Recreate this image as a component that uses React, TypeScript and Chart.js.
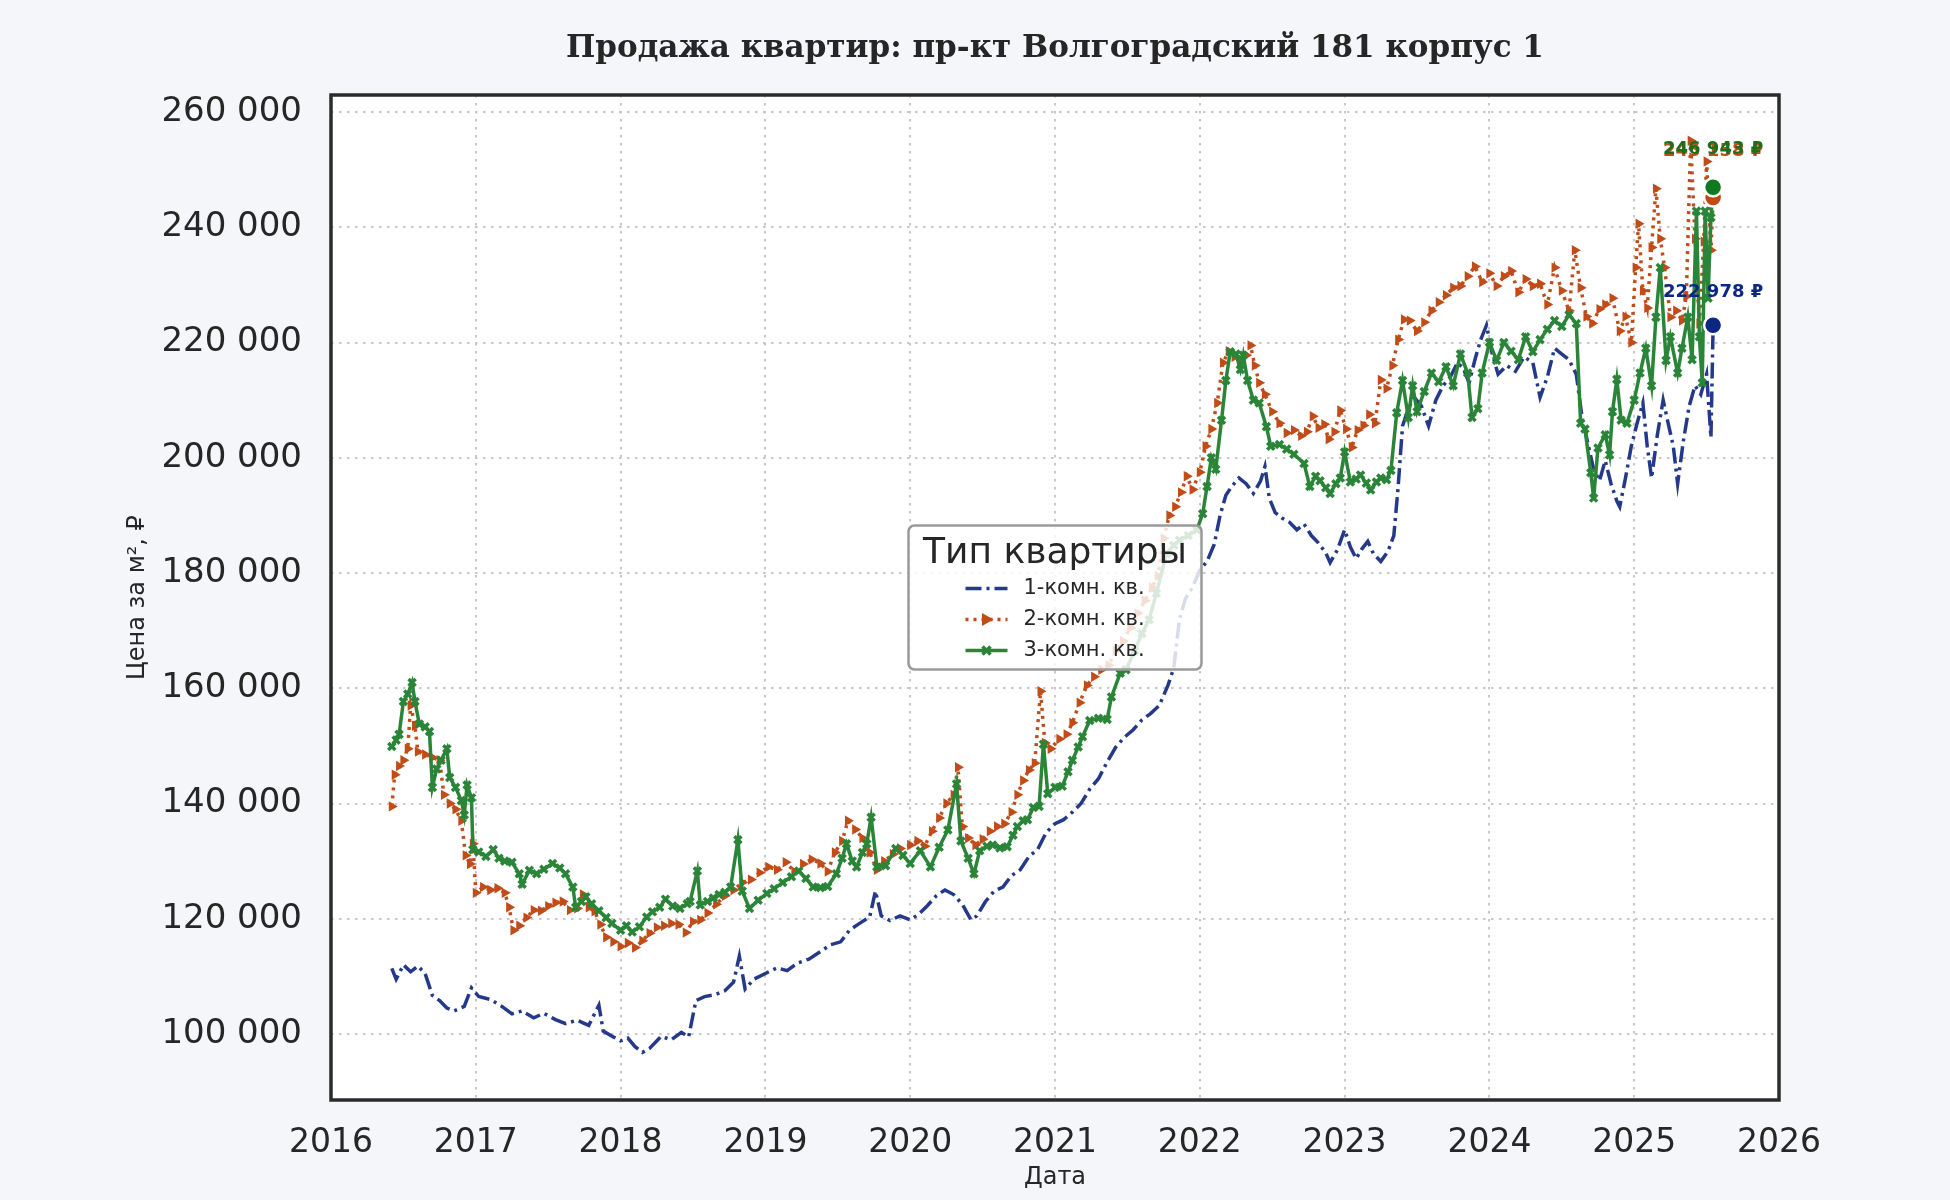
import React, { useEffect, useRef } from 'react';
import { Chart, registerables } from 'chart.js';

Chart.register(...registerables);

// years on the x axis, prices on the y axis
const yearTicks = [2016, 2017, 2018, 2019, 2020, 2021, 2022, 2023, 2024, 2025, 2026];
const priceTicks = [100000, 120000, 140000, 160000, 180000, 200000, 220000, 240000, 260000];
const seriesNames = ['1-комн. кв.', '2-комн. кв.', '3-комн. кв.'];

// [decimal year, price per m²]
const oneRoom: [number, number][] = [
  [2016.42, 111400], [2016.45, 109500], [2016.5, 112000], [2016.55, 110800], [2016.6, 111800], [2016.65, 110500],
  [2016.7, 106700], [2016.75, 105800], [2016.8, 104500], [2016.85, 104000], [2016.92, 104800], [2016.97, 108000],
  [2017.02, 106500], [2017.1, 106000], [2017.18, 104800], [2017.25, 103500], [2017.32, 104000], [2017.4, 102800],
  [2017.47, 103600], [2017.55, 102500], [2017.62, 101800], [2017.7, 102400], [2017.78, 101500], [2017.85, 105000],
  [2017.88, 100500], [2017.95, 99500], [2018.0, 98800], [2018.05, 99300], [2018.1, 97800], [2018.15, 96800],
  [2018.2, 97500], [2018.28, 99600], [2018.35, 99000], [2018.42, 100300], [2018.47, 99500], [2018.52, 105800],
  [2018.58, 106500], [2018.65, 106800], [2018.72, 107500], [2018.78, 109000], [2018.82, 113500], [2018.86, 107800],
  [2018.92, 109500], [2019.0, 110500], [2019.08, 111500], [2019.15, 111000], [2019.22, 112300], [2019.3, 113000],
  [2019.38, 114300], [2019.45, 115500], [2019.52, 116000], [2019.58, 118000], [2019.65, 119200], [2019.72, 120300],
  [2019.76, 124800], [2019.8, 120500], [2019.86, 119700], [2019.93, 120500], [2020.0, 119800], [2020.06, 120800],
  [2020.12, 122300], [2020.18, 124000], [2020.24, 125000], [2020.3, 124200], [2020.36, 122500], [2020.42, 119800],
  [2020.46, 120500], [2020.52, 123000], [2020.58, 124800], [2020.64, 125500], [2020.7, 127500], [2020.76, 128500],
  [2020.82, 130800], [2020.88, 132000], [2020.94, 135000], [2021.0, 136500], [2021.06, 137200], [2021.12, 138500],
  [2021.18, 140000], [2021.24, 142500], [2021.3, 144300], [2021.36, 147200], [2021.42, 149800], [2021.48, 151500],
  [2021.54, 152800], [2021.6, 154500], [2021.66, 155600], [2021.72, 157000], [2021.78, 160500], [2021.82, 163500],
  [2021.86, 172000], [2021.9, 175500], [2021.95, 177500], [2022.0, 180500], [2022.05, 182000], [2022.1, 185000],
  [2022.14, 190000], [2022.18, 193500], [2022.22, 195000], [2022.27, 196500], [2022.32, 195500], [2022.37, 193800],
  [2022.42, 196000], [2022.45, 198500], [2022.48, 193000], [2022.52, 190500], [2022.57, 189500], [2022.62, 188800],
  [2022.67, 187500], [2022.72, 188500], [2022.77, 186500], [2022.82, 185200], [2022.87, 183500], [2022.9, 181800],
  [2022.95, 184000], [2023.0, 187500], [2023.04, 184500], [2023.08, 182500], [2023.12, 184200], [2023.16, 185500],
  [2023.2, 183300], [2023.25, 182000], [2023.3, 183800], [2023.34, 186500], [2023.37, 195000], [2023.4, 205500],
  [2023.44, 208500], [2023.48, 210500], [2023.53, 209000], [2023.58, 205500], [2023.63, 210000], [2023.68, 212500],
  [2023.73, 214000], [2023.78, 216500], [2023.82, 215500], [2023.86, 213000], [2023.9, 217000], [2023.94, 220500],
  [2023.98, 223000], [2024.02, 218000], [2024.06, 214500], [2024.12, 216000], [2024.18, 215000], [2024.24, 217500],
  [2024.3, 216500], [2024.35, 210500], [2024.4, 214000], [2024.45, 219000], [2024.5, 218000], [2024.55, 217000],
  [2024.6, 214500], [2024.64, 207000], [2024.68, 202500], [2024.72, 198000], [2024.76, 196000], [2024.8, 199500],
  [2024.84, 195500], [2024.88, 192500], [2024.9, 191500], [2024.94, 196500], [2024.98, 202000], [2025.02, 206000],
  [2025.06, 209500], [2025.09, 202000], [2025.12, 196500], [2025.16, 204000], [2025.2, 210000], [2025.23, 206500],
  [2025.27, 202000], [2025.3, 195500], [2025.34, 203000], [2025.38, 209000], [2025.42, 212500], [2025.46, 211000],
  [2025.5, 214500], [2025.53, 203500], [2025.545, 222978],
];

const twoRoom: [number, number][] = [
  [2016.42, 139500], [2016.44, 145000], [2016.47, 146500], [2016.5, 147500], [2016.53, 149500], [2016.55, 157000],
  [2016.58, 153500], [2016.6, 149000], [2016.65, 148500], [2016.7, 148000], [2016.75, 147500], [2016.78, 141500],
  [2016.82, 140000], [2016.86, 139000], [2016.9, 137000], [2016.93, 131000], [2016.96, 129500], [2016.98, 133000],
  [2017.0, 124500], [2017.05, 125500], [2017.1, 125000], [2017.15, 125300], [2017.2, 124500], [2017.23, 122000],
  [2017.26, 118000], [2017.3, 118800], [2017.35, 120200], [2017.4, 121500], [2017.45, 121400], [2017.5, 122200],
  [2017.55, 122800], [2017.6, 123000], [2017.65, 121500], [2017.7, 121800], [2017.74, 124200], [2017.78, 122000],
  [2017.82, 121300], [2017.86, 119000], [2017.9, 116800], [2017.95, 116000], [2018.0, 115200], [2018.05, 115800],
  [2018.1, 115000], [2018.15, 116200], [2018.2, 117500], [2018.25, 118500], [2018.3, 118800], [2018.35, 119200],
  [2018.4, 119000], [2018.45, 117600], [2018.5, 119500], [2018.55, 119800], [2018.6, 121000], [2018.66, 122500],
  [2018.72, 124000], [2018.78, 125000], [2018.84, 126300], [2018.9, 126800], [2018.96, 128000], [2019.02, 129000],
  [2019.08, 128500], [2019.14, 129800], [2019.2, 128200], [2019.26, 129500], [2019.32, 130300], [2019.38, 129600],
  [2019.43, 128200], [2019.48, 131500], [2019.53, 133500], [2019.57, 137000], [2019.62, 135500], [2019.67, 134000],
  [2019.72, 131500], [2019.77, 128500], [2019.82, 130000], [2019.88, 131200], [2019.93, 132200], [2020.0, 132800],
  [2020.05, 133500], [2020.1, 132600], [2020.15, 135200], [2020.2, 137500], [2020.25, 140000], [2020.3, 141500],
  [2020.33, 146300], [2020.36, 136000], [2020.4, 134000], [2020.45, 132800], [2020.5, 133800], [2020.55, 135200],
  [2020.6, 136000], [2020.65, 136500], [2020.7, 138500], [2020.74, 141500], [2020.78, 144000], [2020.82, 145800],
  [2020.86, 147000], [2020.9, 159500], [2020.93, 150500], [2020.97, 149500], [2021.03, 151200], [2021.08, 152000],
  [2021.12, 154000], [2021.17, 157500], [2021.22, 160500], [2021.27, 162000], [2021.32, 163200], [2021.37, 164000],
  [2021.42, 166500], [2021.47, 168200], [2021.52, 170500], [2021.57, 173000], [2021.62, 175200], [2021.67, 177500],
  [2021.71, 179500], [2021.75, 186000], [2021.79, 190000], [2021.83, 191500], [2021.87, 194000], [2021.91, 196800],
  [2021.95, 194500], [2022.0, 197500], [2022.04, 202000], [2022.08, 205000], [2022.12, 209500], [2022.16, 216500],
  [2022.2, 218500], [2022.24, 217500], [2022.28, 216800], [2022.32, 217800], [2022.35, 219500], [2022.38, 216000],
  [2022.41, 213000], [2022.45, 211000], [2022.5, 208000], [2022.55, 206000], [2022.6, 204300], [2022.65, 204800],
  [2022.7, 203800], [2022.74, 204500], [2022.78, 207200], [2022.82, 205200], [2022.86, 205800], [2022.89, 203200],
  [2022.93, 204500], [2022.97, 208200], [2023.01, 205000], [2023.05, 201800], [2023.09, 204800], [2023.13, 205600],
  [2023.17, 207500], [2023.21, 206000], [2023.25, 213500], [2023.29, 212000], [2023.33, 216000], [2023.37, 220500],
  [2023.41, 224000], [2023.45, 223800], [2023.5, 222000], [2023.55, 223500], [2023.6, 225500], [2023.65, 227000],
  [2023.7, 228200], [2023.75, 229500], [2023.8, 229800], [2023.85, 231500], [2023.9, 233200], [2023.95, 230500],
  [2024.0, 232000], [2024.05, 229800], [2024.1, 231500], [2024.15, 232400], [2024.2, 228700], [2024.25, 231000],
  [2024.3, 229800], [2024.35, 230200], [2024.4, 226600], [2024.45, 233000], [2024.5, 229000], [2024.55, 225500],
  [2024.59, 236000], [2024.63, 229500], [2024.67, 224500], [2024.71, 223300], [2024.76, 225800], [2024.8, 226600],
  [2024.85, 227700], [2024.9, 222000], [2024.94, 224500], [2024.98, 220000], [2025.01, 233000], [2025.03, 240600],
  [2025.06, 229000], [2025.09, 226000], [2025.12, 236500], [2025.15, 246700], [2025.18, 238000], [2025.21, 233000],
  [2025.25, 224400], [2025.29, 225500], [2025.33, 223800], [2025.36, 228000], [2025.39, 255000], [2025.42, 238000],
  [2025.45, 223300], [2025.48, 237500], [2025.5, 251400], [2025.53, 236000], [2025.545, 245158],
];

const threeRoom: [number, number][] = [
  [2016.42, 149900], [2016.45, 151000], [2016.47, 152000], [2016.5, 157700], [2016.53, 159000], [2016.56, 161000],
  [2016.58, 157700], [2016.61, 153800], [2016.65, 153300], [2016.68, 152500], [2016.7, 142800], [2016.73, 146000],
  [2016.76, 147500], [2016.8, 149500], [2016.82, 144500], [2016.86, 142800], [2016.9, 140500], [2016.92, 138000],
  [2016.94, 143200], [2016.97, 141000], [2016.98, 132000], [2017.02, 131600], [2017.07, 130800], [2017.12, 132000],
  [2017.16, 130500], [2017.2, 130000], [2017.25, 129800], [2017.3, 127800], [2017.32, 126000], [2017.37, 128400],
  [2017.42, 127800], [2017.47, 128600], [2017.53, 129600], [2017.58, 128800], [2017.62, 127800], [2017.67, 125500],
  [2017.69, 122000], [2017.73, 123000], [2017.76, 123800], [2017.8, 122600], [2017.85, 121400], [2017.9, 120200],
  [2017.94, 119200], [2018.0, 118000], [2018.04, 118800], [2018.08, 117700], [2018.13, 118600], [2018.18, 120300],
  [2018.22, 121200], [2018.27, 122000], [2018.31, 123400], [2018.36, 122200], [2018.41, 121800], [2018.46, 122600],
  [2018.48, 123000], [2018.53, 128300], [2018.55, 122400], [2018.6, 123000], [2018.64, 123600], [2018.68, 124200],
  [2018.72, 124600], [2018.76, 125500], [2018.81, 133700], [2018.84, 124800], [2018.89, 121800], [2018.95, 123200],
  [2019.01, 124400], [2019.06, 125200], [2019.12, 126300], [2019.18, 127300], [2019.23, 128300], [2019.28, 127000],
  [2019.33, 125500], [2019.38, 125400], [2019.43, 125600], [2019.49, 127800], [2019.53, 130500], [2019.56, 133000],
  [2019.6, 130000], [2019.63, 129000], [2019.67, 131500], [2019.7, 133000], [2019.73, 137600], [2019.77, 129000],
  [2019.83, 129200], [2019.9, 132200], [2019.95, 131000], [2020.0, 129600], [2020.07, 131800], [2020.14, 129000],
  [2020.2, 132400], [2020.26, 135400], [2020.32, 143400], [2020.35, 133500], [2020.4, 130500], [2020.44, 127800],
  [2020.48, 131800], [2020.53, 132600], [2020.57, 132800], [2020.62, 132300], [2020.67, 132500], [2020.71, 134500],
  [2020.74, 136000], [2020.78, 137000], [2020.81, 137200], [2020.85, 139300], [2020.89, 139500], [2020.92, 150300],
  [2020.95, 141700], [2021.0, 142800], [2021.05, 143000], [2021.09, 145500], [2021.12, 147500], [2021.16, 149800],
  [2021.19, 151600], [2021.24, 154400], [2021.3, 154800], [2021.36, 154600], [2021.39, 158500], [2021.45, 162600],
  [2021.49, 163200], [2021.55, 166500], [2021.6, 169500], [2021.65, 171900], [2021.7, 176500], [2021.77, 183400],
  [2021.82, 184800], [2021.86, 185700], [2021.92, 186500], [2021.98, 187500], [2022.02, 190300], [2022.05, 195000],
  [2022.08, 200000], [2022.11, 198000], [2022.15, 206500], [2022.18, 213400], [2022.21, 218400], [2022.25, 218000],
  [2022.28, 215300], [2022.3, 217800], [2022.33, 213400], [2022.37, 210000], [2022.41, 209500], [2022.46, 205400],
  [2022.49, 202000], [2022.55, 202300], [2022.6, 201500], [2022.65, 200600], [2022.72, 199000], [2022.76, 195000],
  [2022.8, 196800], [2022.83, 196000], [2022.87, 194800], [2022.9, 193800], [2022.94, 195500], [2022.97, 196500],
  [2023.0, 201000], [2023.04, 195800], [2023.08, 196300], [2023.11, 197000], [2023.15, 195600], [2023.18, 194400],
  [2023.22, 195800], [2023.25, 196500], [2023.29, 196200], [2023.32, 197800], [2023.36, 207800], [2023.4, 213400],
  [2023.44, 207000], [2023.47, 212500], [2023.5, 208000], [2023.55, 211500], [2023.6, 214700], [2023.65, 213200],
  [2023.7, 215800], [2023.75, 212500], [2023.8, 218000], [2023.85, 214700], [2023.88, 207000], [2023.92, 208500],
  [2023.95, 214700], [2024.0, 220000], [2024.05, 216900], [2024.1, 220000], [2024.15, 218500], [2024.2, 217000],
  [2024.25, 221000], [2024.3, 218400], [2024.35, 220500], [2024.4, 222300], [2024.45, 223800], [2024.5, 222800],
  [2024.55, 224800], [2024.6, 223300], [2024.63, 206000], [2024.66, 205000], [2024.7, 197400], [2024.72, 193000],
  [2024.75, 201700], [2024.8, 204000], [2024.83, 200500], [2024.85, 208000], [2024.88, 213600], [2024.91, 206500],
  [2024.95, 206000], [2025.0, 210000], [2025.04, 214700], [2025.08, 219000], [2025.12, 212500], [2025.15, 224400],
  [2025.18, 233000], [2025.22, 216900], [2025.25, 221000], [2025.3, 214700], [2025.33, 219000], [2025.37, 224400],
  [2025.4, 217000], [2025.43, 242800], [2025.45, 221000], [2025.47, 213000], [2025.49, 242800], [2025.51, 227700],
  [2025.53, 241700], [2025.545, 246943],
];

const lineColors = ['#24398a', '#c04d19', '#2b8538'];
const dotColors = ['#0a2784', '#c24914', '#0f7a20'];
const labelColors = ['#0a2784', '#b8521c', '#1b6e1b'];
const labelLift = [33, 46, 38];
const textColor = '#262626';

const toXY = (rows: [number, number][]) => rows.map(([x, y]) => ({ x, y }));
const fmt = (v: number) => String(Math.round(v)).replace(/\B(?=(\d{3})+(?!\d))/g, ' ');

const allSeries = [oneRoom, twoRoom, threeRoom];

const decorPlugin = {
  id: 'decor',
  beforeDraw(chart: any) {
    const { ctx, chartArea: a } = chart;
    ctx.save();
    ctx.fillStyle = '#ffffff';
    ctx.fillRect(a.left, a.top, a.right - a.left, a.bottom - a.top);
    ctx.restore();
  },
  afterDatasetsDraw(chart: any) {
    // legend box in the middle of the plot
    const { ctx, chartArea: a } = chart;
    const cx = (a.left + a.right) / 2;
    const cy = (a.top + a.bottom) / 2;
    const w = 293;
    const h = 144;
    const left = cx - w / 2;
    const top = cy - h / 2;
    ctx.save();
    ctx.beginPath();
    ctx.roundRect(left, top, w, h, 6);
    ctx.fillStyle = 'rgba(255,255,255,0.82)';
    ctx.fill();
    ctx.lineWidth = 2.5;
    ctx.strokeStyle = '#9a9a9a';
    ctx.stroke();

    ctx.fillStyle = textColor;
    ctx.font = '36px "DejaVu Sans"';
    ctx.textAlign = 'center';
    ctx.textBaseline = 'alphabetic';
    ctx.fillText('Тип квартиры', cx, top + 37);

    const rowY = [63, 94, 125];
    const x0 = left + 57;
    const x1 = left + 99;
    seriesNames.forEach((name, i) => {
      const y = top + rowY[i];
      ctx.save();
      ctx.strokeStyle = lineColors[i];
      ctx.lineWidth = i === 1 ? 3.5 : 3.5;
      ctx.setLineDash(i === 0 ? [16, 5, 3, 5] : i === 1 ? [3, 5] : []);
      ctx.beginPath();
      ctx.moveTo(x0, y);
      ctx.lineTo(x1, y);
      ctx.stroke();
      ctx.setLineDash([]);
      const mx = (x0 + x1) / 2;
      if (i === 1) {
        ctx.fillStyle = lineColors[1];
        ctx.beginPath();
        ctx.moveTo(mx + 7, y);
        ctx.lineTo(mx - 4.5, y - 6.5);
        ctx.lineTo(mx - 4.5, y + 6.5);
        ctx.closePath();
        ctx.fill();
      } else if (i === 2) {
        ctx.lineWidth = 3.5;
        ctx.beginPath();
        ctx.moveTo(mx - 4, y - 4);
        ctx.lineTo(mx + 4, y + 4);
        ctx.moveTo(mx - 4, y + 4);
        ctx.lineTo(mx + 4, y - 4);
        ctx.stroke();
      }
      ctx.restore();
      ctx.fillStyle = textColor;
      ctx.font = '21px "DejaVu Sans"';
      ctx.textAlign = 'left';
      ctx.textBaseline = 'middle';
      ctx.fillText(name, left + 115, y);
    });
    ctx.restore();
  },
  afterDraw(chart: any) {
    const { ctx, chartArea: a } = chart;
    ctx.save();
    // frame
    ctx.strokeStyle = '#2b2b2b';
    ctx.lineWidth = 3.5;
    ctx.strokeRect(a.left, a.top, a.right - a.left, a.bottom - a.top);
    // title
    ctx.fillStyle = textColor;
    ctx.font = 'bold 31px "DejaVu Serif"';
    ctx.textAlign = 'center';
    ctx.textBaseline = 'middle';
    ctx.fillText('Продажа квартир: пр-кт Волгоградский 181 корпус 1', (a.left + a.right) / 2, 49);
    // last value labels
    const meta = chart.getDatasetMeta(3);
    ctx.font = 'bold 18px "DejaVu Sans"';
    meta.data.forEach((pt: any, i: number) => {
      ctx.fillStyle = labelColors[i];
      ctx.fillText(fmt(allSeries[i][allSeries[i].length - 1][1]) + ' ₽', pt.x, pt.y - labelLift[i]);
    });
    ctx.restore();
  },
};

const App: React.FC = () => {
  const canvasRef = useRef<HTMLCanvasElement>(null);

  useEffect(() => {
    document.body.style.margin = '0';
    if (!canvasRef.current) return;

    const lastPoints = allSeries.map((s) => ({ x: s[s.length - 1][0], y: s[s.length - 1][1] }));

    const chart = new Chart(canvasRef.current, {
      type: 'line',
      data: {
        datasets: [
          {
            label: seriesNames[0],
            data: toXY(oneRoom),
            borderColor: lineColors[0],
            backgroundColor: lineColors[0],
            borderWidth: 3.5,
            borderDash: [16, 5, 3, 5],
            pointRadius: 0,
            tension: 0,
            order: 3,
          },
          {
            label: seriesNames[1],
            data: toXY(twoRoom),
            borderColor: lineColors[1],
            backgroundColor: lineColors[1],
            borderWidth: 3.5,
            borderDash: [3, 5],
            pointStyle: 'triangle',
            pointRotation: 90,
            pointRadius: 6,
            pointBorderWidth: 0,
            pointBackgroundColor: lineColors[1],
            tension: 0,
            order: 2,
          },
          {
            label: seriesNames[2],
            data: toXY(threeRoom),
            borderColor: lineColors[2],
            backgroundColor: lineColors[2],
            borderWidth: 3.5,
            pointStyle: 'crossRot',
            pointRadius: 5,
            pointBorderWidth: 3.5,
            pointBorderColor: lineColors[2],
            tension: 0,
            order: 1,
          },
          {
            label: 'last',
            data: lastPoints,
            showLine: false,
            pointRadius: 9,
            pointBackgroundColor: dotColors,
            pointBorderColor: '#ffffff',
            pointBorderWidth: 2.5,
            order: 0,
          },
        ],
      },
      options: {
        animation: false,
        responsive: true,
        maintainAspectRatio: false,
        layout: { padding: { top: 95, right: 171, left: 0, bottom: 0 } },
        plugins: {
          legend: { display: false },
          tooltip: { enabled: false },
          title: { display: false },
        },
        scales: {
          x: {
            type: 'linear',
            min: 2016,
            max: 2026,
            afterBuildTicks: (scale: any) => {
              scale.ticks = yearTicks.map((v) => ({ value: v }));
            },
            afterFit: (scale: any) => {
              scale.height = 100;
            },
            grid: { color: '#c8c8c8', lineWidth: 2, drawTicks: false },
            border: { display: false, dash: [2.5, 5.5] },
            ticks: {
              color: textColor,
              font: { family: 'DejaVu Sans', size: 33 },
              padding: 24,
              maxRotation: 0,
              callback: (v: any) => String(v),
            },
            title: {
              display: true,
              text: 'Дата',
              color: textColor,
              font: { family: 'DejaVu Sans', size: 24 },
              padding: { top: 0, bottom: 7.6 },
            },
          },
          y: {
            type: 'linear',
            min: 88550,
            max: 262950,
            afterBuildTicks: (scale: any) => {
              scale.ticks = priceTicks.map((v) => ({ value: v }));
            },
            afterFit: (scale: any) => {
              scale.width = 331;
            },
            grid: { color: '#c8c8c8', lineWidth: 2, drawTicks: false },
            border: { display: false, dash: [2.5, 5.5] },
            ticks: {
              color: textColor,
              font: { family: 'DejaVu Sans', size: 34 },
              padding: 29,
              callback: (v: any) => fmt(Number(v)),
            },
            title: {
              display: true,
              text: 'Цена за м², ₽',
              color: textColor,
              font: { family: 'DejaVu Sans', size: 24 },
              padding: { top: 123.6, bottom: 0 },
            },
          },
        },
      },
      plugins: [decorPlugin],
    } as any);

    return () => {
      chart.destroy();
    };
  }, []);

  return (
    <div style={{ width: 1950, height: 1200, background: '#f5f6fa', position: 'relative' }}>
      <canvas ref={canvasRef} />
    </div>
  );
};

export default App;
